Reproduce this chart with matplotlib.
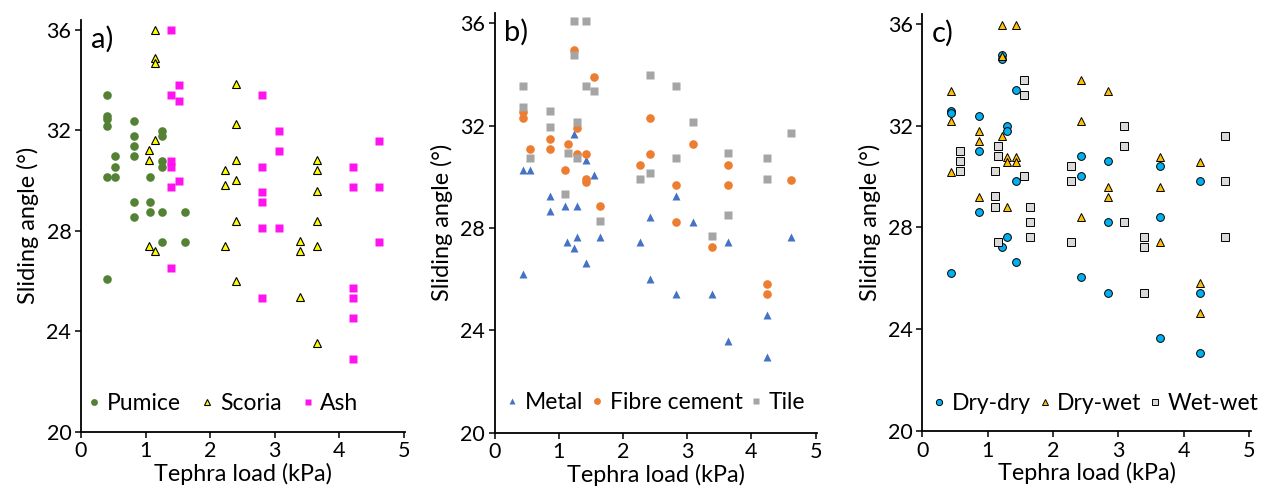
import numpy as np
import matplotlib
matplotlib.use("Agg")
import matplotlib.pyplot as plt

plt.rcParams['font.family'] = ['Lato', 'DejaVu Sans']

# a) tephra type
pumice_x = [0.40, 0.40, 0.40, 0.40, 0.52, 0.52, 0.40, 0.52, 0.40,
            0.82, 0.82, 0.82, 0.82, 0.82, 0.82, 1.07, 1.07, 1.07,
            1.25, 1.25, 1.25, 1.25, 1.25, 1.25, 1.61, 1.61]
pumice_y = [33.4, 32.57, 32.45, 32.18, 30.96, 30.55, 30.15, 30.15, 26.09,
            32.38, 31.79, 31.37, 30.96, 29.14, 28.53, 30.15, 29.14, 28.75,
            31.97, 31.79, 30.78, 30.55, 28.75, 27.54, 28.75, 27.54]
scoria_x = [1.14, 1.14, 1.14, 1.14, 1.06, 1.06, 1.06, 1.14,
            2.40, 2.40, 2.40, 2.40, 2.40, 2.40, 2.23, 2.23, 2.23,
            3.40, 3.40, 3.40, 3.66, 3.66, 3.66, 3.66, 3.66, 3.66]
scoria_y = [36.0, 34.9, 34.67, 31.63, 31.23, 30.82, 27.40, 27.18,
            33.86, 32.25, 30.82, 30.03, 28.40, 25.98, 30.42, 29.82, 27.40,
            27.6, 27.18, 25.36, 30.82, 30.42, 29.59, 28.40, 27.40, 23.54]
ash_x = [1.39, 1.52, 1.39, 1.52, 1.39, 1.39, 1.52, 1.39, 1.39,
         2.81, 2.81, 2.81, 2.81, 2.81, 2.81, 3.07, 3.07, 3.07,
         4.22, 4.22, 4.22, 4.22, 4.22, 4.22, 4.61, 4.61, 4.61]
ash_y = [36.0, 33.8, 33.4, 33.19, 30.78, 30.55, 29.97, 29.75, 26.53,
         33.4, 30.55, 29.55, 29.14, 28.13, 25.31, 31.97, 31.18, 28.13,
         30.55, 29.75, 25.70, 25.31, 24.51, 22.89, 31.57, 29.75, 27.54]

# b) roof material
metal_x = [0.44, 0.56, 0.44, 0.86, 0.86, 1.10, 1.13, 1.23, 1.23, 1.29, 1.29, 1.43, 1.43, 1.55,
           1.64, 2.26, 2.42, 2.42, 2.83, 2.83, 3.09, 3.39, 3.63, 3.63, 4.24, 4.24, 4.62]
metal_y = [30.25, 30.25, 26.19, 29.25, 28.65, 28.84, 27.44, 27.23, 31.67, 28.84, 27.63, 30.65, 26.64, 30.08,
           27.63, 27.44, 28.44, 26.02, 29.25, 25.41, 28.23, 25.41, 27.44, 23.59, 24.6, 22.97, 27.63]
fibre_x = [0.44, 0.44, 0.56, 0.86, 0.86, 1.14, 1.10, 1.23, 1.29, 1.29, 1.43, 1.43, 1.43, 1.55,
           1.64, 2.26, 2.42, 2.42, 2.83, 2.83, 3.09, 3.39, 3.63, 3.63, 4.24, 4.24, 4.62]
fibre_y = [32.54, 32.28, 31.09, 31.48, 31.09, 31.28, 30.26, 34.95, 31.89, 30.89, 30.89, 29.91, 29.80, 33.91,
           28.84, 30.47, 32.28, 30.89, 29.68, 28.24, 31.28, 27.25, 30.47, 29.68, 25.81, 25.41, 29.87]
tile_x = [0.44, 0.44, 0.56, 0.86, 0.86, 1.10, 1.14, 1.23, 1.23, 1.29, 1.29, 1.43, 1.43, 1.55,
          1.64, 2.26, 2.42, 2.42, 2.83, 2.83, 3.09, 3.39, 3.63, 3.63, 4.24, 4.24, 4.62]
tile_y = [33.54, 32.73, 30.72, 32.55, 31.94, 29.31, 30.93, 36.08, 34.77, 32.14, 30.72, 36.08, 33.54, 33.35,
          28.28, 29.91, 33.96, 30.13, 33.54, 30.72, 32.14, 27.70, 30.93, 28.50, 30.72, 29.91, 31.72]

# c) moisture condition
drydry_x = [0.44, 0.44, 0.44, 0.87, 0.87, 0.87, 1.22, 1.22, 1.22, 1.29, 1.29, 1.29, 1.43, 1.43,
            1.43, 2.43, 2.43, 2.43, 2.84, 2.84, 2.84, 3.63, 3.63, 3.63, 4.24, 4.24, 4.24]
drydry_y = [32.59, 32.5, 26.20, 32.38, 31.01, 28.62, 34.78, 34.61, 27.23, 32.0, 31.80, 27.63, 33.40, 29.81,
            26.63, 30.81, 30.01, 26.05, 30.61, 28.22, 25.44, 30.42, 28.43, 23.65, 29.81, 25.44, 23.07]
drywet_x = [0.44, 0.44, 0.44, 0.87, 0.87, 0.87, 1.22, 1.22, 1.22, 1.29, 1.29, 1.29, 1.43, 1.43,
            1.43, 2.43, 2.43, 2.43, 2.84, 2.84, 2.84, 3.63, 3.63, 3.63, 4.24, 4.24, 4.24]
drywet_y = [33.38, 32.18, 30.19, 31.79, 31.39, 29.20, 35.94, 34.74, 31.6, 30.78, 30.59, 28.82, 35.94, 30.78,
            30.59, 33.78, 32.18, 28.41, 33.38, 29.60, 29.20, 30.78, 29.60, 27.42, 30.59, 25.83, 24.63]
wetwet_x = [0.57, 0.57, 0.57, 1.11, 1.11, 1.11, 1.15, 1.15, 1.15, 1.56, 1.56, 1.56, 1.65, 1.65,
            1.65, 2.27, 2.27, 2.27, 3.09, 3.09, 3.09, 3.39, 3.39, 3.39, 4.63, 4.63, 4.63]
wetwet_y = [31.01, 30.61, 30.21, 30.21, 29.24, 28.82, 31.2, 30.81, 27.44, 33.80, 33.19, 30.01, 28.82, 28.22,
            27.63, 30.42, 29.81, 27.44, 32.0, 31.2, 28.22, 27.63, 27.23, 25.44, 31.6, 29.81, 27.63]

W, H = 1261, 499
fig = plt.figure(figsize=(W / 100, H / 100), dpi=100)


def make_axes(left, right, bottom, top):
    # pixel box -> figure fraction
    return fig.add_axes([left / W, 1 - bottom / H, (right - left) / W, (bottom - top) / H])


def style(ax, tag):
    ax.set_xlim(0, 5.02)
    ax.set_ylim(20, 36.4)
    ax.set_xticks(range(6))
    ax.set_yticks([20, 24, 28, 32, 36])
    for s in ['top', 'right']:
        ax.spines[s].set_visible(False)
    for s in ['left', 'bottom']:
        ax.spines[s].set_linewidth(1.3)
    ax.tick_params(direction='out', length=4, width=1.1, labelsize=15.5, pad=3)
    ax.set_xlabel('Tephra load (kPa)', fontsize=16.8, labelpad=1)
    ax.set_ylabel('Sliding angle (°)', fontsize=16.8, labelpad=5)
    ax.text(0.03, 0.985, tag, transform=ax.transAxes, fontsize=21, va='top', ha='left')


ax1 = make_axes(81, 405, 431.5, 20)
ax2 = make_axes(494.5, 817, 432.7, 12.9)
ax3 = make_axes(922.3, 1250.6, 431.1, 13.7)

ax1.plot(pumice_x, pumice_y, 'o', ms=6.2, color='#548235', mec='none', label='Pumice')
ax1.plot(scoria_x, scoria_y, '^', ms=6, color='#FFFF00', mec='black', mew=0.8, label='Scoria')
ax1.plot(ash_x, ash_y, 's', ms=6.2, color='#FF14F0', mec='none', label='Ash')

ax2.plot(metal_x, metal_y, '^', ms=6.2, color='#4472C4', mec='none', label='Metal')
ax2.plot(fibre_x, fibre_y, 'o', ms=6.2, color='#ED7D31', mec='none', label='Fibre cement')
ax2.plot(tile_x, tile_y, 's', ms=6, color='#A5A5A5', mec='none', label='Tile')

ax3.plot(drydry_x, drydry_y, 'o', ms=5.6, color='#00B0F0', mec='black', mew=0.7, label='Dry-dry')
ax3.plot(drywet_x, drywet_y, '^', ms=5.6, color='#FFC000', mec='black', mew=0.7, label='Dry-wet')
ax3.plot(wetwet_x, wetwet_y, 's', ms=5.4, color='#D9D9D9', mec='black', mew=0.7, label='Wet-wet')

style(ax1, 'a)')
style(ax2, 'b)')
style(ax3, 'c)')

legend_kw = dict(loc='center left', ncol=3, frameon=False, fontsize=16.5, handlelength=0.5,
                 handletextpad=0.3, markerscale=0.8, borderpad=0, borderaxespad=0)
ax1.legend(bbox_to_anchor=(0.023, 0.069), columnspacing=0.9, **legend_kw)
ax2.legend(bbox_to_anchor=(0.0375, 0.071), columnspacing=0.35, **legend_kw)
ax3.legend(bbox_to_anchor=(0.034, 0.067), columnspacing=0.35, **legend_kw)

fig.savefig('out.png', dpi=100)
